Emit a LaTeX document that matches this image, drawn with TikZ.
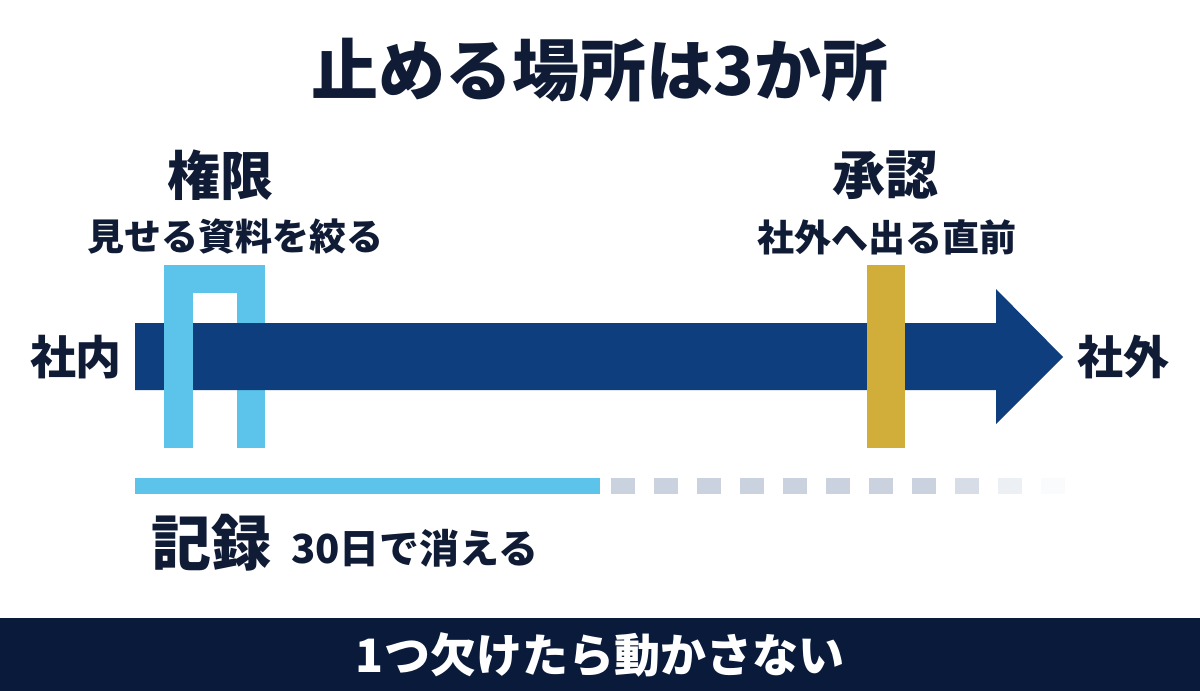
\documentclass[tikz,border=0pt]{standalone}
\usepackage{fontspec}
\usepackage{xcolor}
\newfontfamily\jpfont{Noto Sans CJK JP}
\usetikzlibrary{positioning}
\definecolor{inknavy}{HTML}{101C36}
\definecolor{bannernavy}{HTML}{0A1A3A}
\definecolor{flowblue}{HTML}{0E3E7E}
\definecolor{gateblue}{HTML}{5CC4EB}
\definecolor{approvegold}{HTML}{D1AE3A}
\definecolor{fadegrey}{HTML}{C9D2DE}

\begin{document}
\begin{tikzpicture}[
  x=1pt, y=-1pt,
  title/.style={text=inknavy, font=\jpfont\bfseries\fontsize{67}{67}\selectfont, inner sep=0pt},
  head/.style={text=inknavy, font=\jpfont\bfseries\fontsize{53}{53}\selectfont, inner sep=0pt},
  sub/.style={text=inknavy, font=\jpfont\bfseries\fontsize{37}{37}\selectfont, inner sep=0pt},
  side/.style={text=inknavy, font=\jpfont\bfseries\fontsize{46}{46}\selectfont, inner sep=0pt},
  banner/.style={text=white, font=\jpfont\bfseries\fontsize{46}{46}\selectfont, inner sep=0pt}
]
  \useasboundingbox[fill=white] (0,0) rectangle (1200,691);

  % title
  \node[title] (ttl) at (600,70) {止める場所は3か所};

  % gate (back part)
  \fill[gateblue] (237,265) rectangle (265,448);
  \fill[gateblue] (164,265) rectangle (265,293);

  % main flow
  \fill[flowblue] (135,323) -- (996,323) -- (996,289) -- (1063,357)
    -- (996,424) -- (996,390) -- (135,390) -- cycle;

  % gate (front part) and approval bar
  \fill[gateblue] (164,265) rectangle (193,448);
  \fill[approvegold] (867,265) rectangle (905,448);

  % log line
  \fill[gateblue] (135,478) rectangle (600,494);
  \foreach \i/\op in {0/1,1/1,2/1,3/1,4/1,5/1,6/1,7/1,8/0.75,9/0.35,10/0.08}
    \fill[fadegrey, opacity=\op] ({611+43*\i},478) rectangle ({635+43*\i},494);

  % labels
  \node[head] (perm) at (220,175) {権限};
  \node[sub] (permsub) at (235,237) {見せる資料を絞る};
  \node[head] (appr) at (885,175) {承認};
  \node[sub] (apprsub) at (887,237) {社外へ出る直前};
  \node[side] (inside) at (76,357) {社内};
  \node[side] (outside) at (1123,357) {社外};
  \node[head, font=\jpfont\bfseries\fontsize{60}{60}\selectfont] (log) at (211,543) {記録};
  \node[sub, font=\jpfont\bfseries\fontsize{40}{40}\selectfont] (logsub) at (415,548) {30日で消える};

  % bottom banner
  \fill[bannernavy] (0,618) rectangle (1200,691);
  \node[banner] (msg) at (600,655) {1つ欠けたら動かさない};
\end{tikzpicture}
\end{document}
